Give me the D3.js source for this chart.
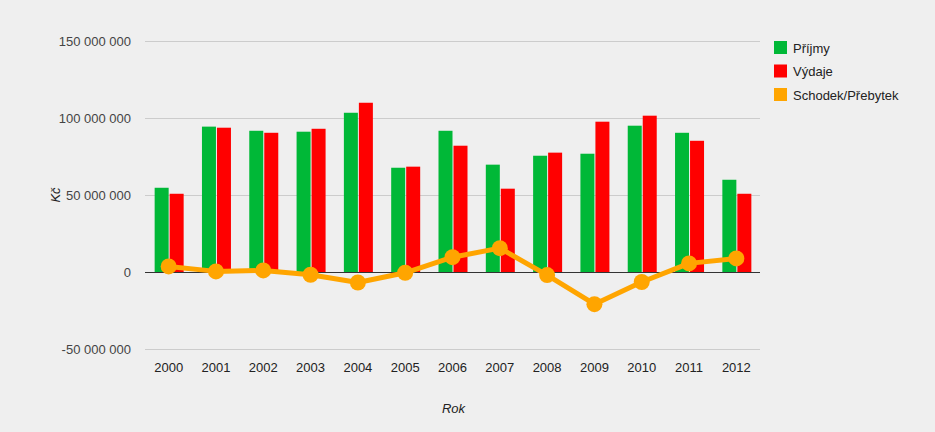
<!DOCTYPE html>
<html>
<head>
<meta charset="utf-8">
<script src="https://cdn.jsdelivr.net/npm/d3@7"></script>
<style>
body { margin: 0; background: #efefef; }
svg { display: block; font-family: "Liberation Sans", Arial, sans-serif; }
</style>
</head>
<body>
<script>
var years = ["2000","2001","2002","2003","2004","2005","2006","2007","2008","2009","2010","2011","2012"];
var prijmy = [54.7, 94.4, 91.7, 91.1, 103.4, 67.7, 91.7, 69.7, 75.5, 76.8, 95.0, 90.4, 59.9];
var vydaje = [50.8, 93.7, 90.4, 93.0, 109.9, 68.4, 82.0, 54.1, 77.5, 97.6, 101.5, 85.2, 50.8];
var saldo = [3.6, 0.4, 1.0, -1.8, -6.8, -0.5, 9.6, 15.5, -2.0, -20.9, -6.5, 5.6, 8.8];
var yTicks = [-50, 0, 50, 100, 150];
var legendNames = ["Příjmy", "Výdaje", "Schodek/Přebytek"];
var colors = ["#00b837", "#ff0000", "#ffa500"];

var width = 935, height = 432;
var margin = {left:145, right:175, top:41, bottom:83};
var w = width - margin.left - margin.right;
var h = height - margin.top - margin.bottom;

var svg = d3.select("body").append("svg").attr("width", width).attr("height", height);
var g = svg.append("g").attr("transform", "translate(" + margin.left + "," + margin.top + ")");

var x = d3.scaleBand().domain(years).range([0, w]);
var y = d3.scaleLinear().domain([-50, 150]).range([h, 0]);
var barW = 14;

function fmt(v) {
  return d3.format(",")(v * 1000000).replace(/,/g, " ").replace("\u2212", "-");
}

// grid
g.selectAll(".grid").data(yTicks).enter().append("line")
  .attr("x1", 0).attr("x2", w)
  .attr("y1", function(d){ return Math.round(y(d)) + 0.5; })
  .attr("y2", function(d){ return Math.round(y(d)) + 0.5; })
  .attr("stroke", "#cccccc");

g.selectAll(".ytick").data(yTicks).enter().append("text")
  .attr("x", -14).attr("y", function(d){ return y(d) + 5; })
  .attr("text-anchor", "end").attr("font-size", 13).attr("fill", "#444")
  .text(fmt);

// bars
var cx = function(d){ return x(d) + x.bandwidth() / 2; };
g.selectAll(".b1").data(years).enter().append("rect")
  .attr("x", function(d){ return cx(d) - barW; })
  .attr("width", barW)
  .attr("y", function(d,i){ return y(prijmy[i]); })
  .attr("height", function(d,i){ return y(0) - y(prijmy[i]); })
  .attr("fill", colors[0]);
g.selectAll(".b2").data(years).enter().append("rect")
  .attr("x", function(d){ return cx(d) + 1; })
  .attr("width", barW)
  .attr("y", function(d,i){ return y(vydaje[i]); })
  .attr("height", function(d,i){ return y(0) - y(vydaje[i]); })
  .attr("fill", colors[1]);

// baseline
g.append("line").attr("x1", 0).attr("x2", w)
  .attr("y1", Math.round(y(0)) + 0.5).attr("y2", Math.round(y(0)) + 0.5)
  .attr("stroke", "#333");

// line
var line = d3.line()
  .x(function(d,i){ return cx(years[i]); })
  .y(function(d){ return y(d); });
g.append("path").attr("d", line(saldo)).attr("fill", "none")
  .attr("stroke", colors[2]).attr("stroke-width", 5).attr("stroke-linejoin", "round");
g.selectAll(".dot").data(saldo).enter().append("circle")
  .attr("cx", function(d,i){ return cx(years[i]); })
  .attr("cy", function(d){ return y(d); })
  .attr("r", 8).attr("fill", colors[2]);

// x labels
g.selectAll(".xtick").data(years).enter().append("text")
  .attr("x", cx).attr("y", h + 23)
  .attr("text-anchor", "middle").attr("font-size", 13).attr("fill", "#222")
  .text(function(d){ return d; });

g.append("text").attr("x", w / 2 + 1).attr("y", h + 64)
  .attr("text-anchor", "middle").attr("font-size", 13).attr("font-style", "italic")
  .attr("fill", "#222").text("Rok");

svg.append("text")
  .attr("transform", "translate(60," + (y(50) + margin.top) + ") rotate(-90)")
  .attr("text-anchor", "middle").attr("font-size", 13).attr("font-style", "italic")
  .attr("fill", "#222").text("Kč");

// legend
var leg = svg.append("g").attr("transform", "translate(774,41)");
var items = leg.selectAll("g").data(legendNames).enter().append("g")
  .attr("transform", function(d,i){ return "translate(0," + (i * 23.5) + ")"; });
items.append("rect").attr("width", 13).attr("height", 13)
  .attr("fill", function(d,i){ return colors[i]; });
items.append("text").attr("x", 19).attr("y", 11.5)
  .attr("font-size", 13).attr("fill", "#222").text(function(d){ return d; });
</script>
</body>
</html>
